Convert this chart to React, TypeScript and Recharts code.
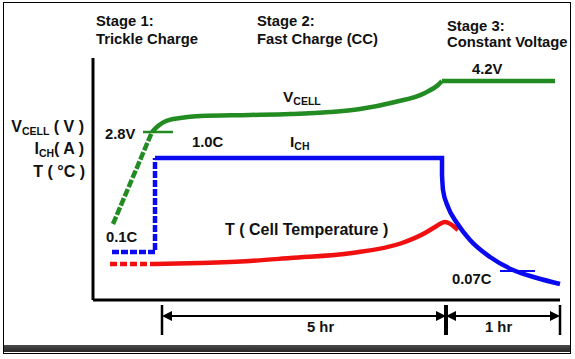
import { LineChart, Line, XAxis, YAxis, ReferenceLine } from 'recharts';

// schematic chart: time and level are in arbitrary units (not to scale)
const timeDomain = [0, 467];
const levelDomain = [0, 242];

// cell voltage
const vcellTrickle = [
  { t: 20, v: 76 },
  { t: 59, v: 168 },
];
const vcellFast = [
  { t: 59, v: 168 },
  { t: 65, v: 174 },
  { t: 73, v: 179 },
  { t: 87, v: 182 },
  { t: 107, v: 184 },
  { t: 157, v: 185 },
  { t: 197, v: 186 },
  { t: 237, v: 188 },
  { t: 267, v: 191 },
  { t: 302, v: 198 },
  { t: 332, v: 207 },
  { t: 345, v: 215 },
  { t: 349, v: 219 },
];
const vcellConst = [
  { t: 349, v: 219 },
  { t: 462, v: 219 },
];

// charge current
const ichTrickle = [
  { t: 19, v: 48 },
  { t: 62, v: 48 },
  { t: 62, v: 142 },
];
const ichFast = [
  { t: 62, v: 142 },
  { t: 349, v: 142 },
  { t: 349, v: 125 },
];
const ichConst = [
  { t: 349, v: 125 },
  { t: 350, v: 110 },
  { t: 355, v: 93 },
  { t: 364, v: 77 },
  { t: 377, v: 60 },
  { t: 397, v: 43 },
  { t: 420, v: 30 },
  { t: 444, v: 22 },
  { t: 467, v: 16 },
];

// cell temperature
const tempTrickle = [
  { t: 17, v: 36 },
  { t: 62, v: 36 },
];
const tempFast = [
  { t: 62, v: 36 },
  { t: 107, v: 37 },
  { t: 157, v: 39 },
  { t: 197, v: 42 },
  { t: 259, v: 47 },
  { t: 309, v: 57 },
  { t: 332, v: 67 },
  { t: 342, v: 73 },
  { t: 352, v: 78 },
  { t: 365, v: 70 },
];

// threshold marks: [t start, t end, level]
const mark28V = [50, 80, 168];
const mark007C = [407, 442, 29];

// stage duration spans below the axis
const spanEdges = [69, 353, 467];
const spanLevel = -16;
const spanTick = [-5, -35];

const GREEN = '#228b22';
const BLUE = '#0a0af0';
const RED = '#f01010';
const FONT = '"Liberation Sans", Arial, sans-serif';

function ArrowLine(props: any) {
  const { x1, y1, x2, y2 } = props;
  const h = 10;
  const w = 5;
  return (
    <g>
      <line x1={x1 + 2} y1={y1} x2={x2 - 2} y2={y2} stroke="#000" strokeWidth={2} />
      <polygon points={`${x1},${y1} ${x1 + h},${y1 - w} ${x1 + h},${y1 + w}`} fill="#000" />
      <polygon points={`${x2},${y2} ${x2 - h},${y2 - w} ${x2 - h},${y2 + w}`} fill="#000" />
    </g>
  );
}

function Txt({ x, y, size = 14.8, right = false, children }: any) {
  const style: any = {
    position: 'absolute',
    top: y - size * 0.8465,
    lineHeight: 1,
    fontSize: size,
    fontWeight: 'bold',
    fontFamily: FONT,
    whiteSpace: 'nowrap',
    color: '#111',
  };
  if (right) {
    style.left = 0;
    style.width = x;
    style.textAlign = 'right';
  } else {
    style.left = x;
  }
  return <div style={style}>{children}</div>;
}

function Sub({ children }: any) {
  return <span style={{ fontSize: 10.5, position: 'relative', top: 3 }}>{children}</span>;
}

export default function App() {
  return (
    <div
      style={{
        position: 'absolute',
        left: 0,
        top: 0,
        width: 575,
        height: 359,
        background: '#fff',
        overflow: 'hidden',
      }}
    >
      <div
        style={{
          position: 'absolute',
          left: 3,
          top: 2,
          width: 566,
          height: 350,
          border: '1px solid #000',
        }}
      />
      <div
        style={{
          position: 'absolute',
          left: 4,
          top: 345,
          width: 566,
          height: 7,
          background: 'linear-gradient(#4a4a4a, #2a2a2a)',
        }}
      />
      <div style={{ position: 'absolute', left: 0, top: 0 }}>
        <LineChart width={575} height={359} margin={{ top: 58, right: 15, bottom: 29, left: 33 }}>
          <XAxis
            type="number"
            dataKey="t"
            domain={timeDomain}
            tick={false}
            tickLine={false}
            height={30}
            axisLine={{ stroke: '#000', strokeWidth: 3 }}
          />
          <YAxis
            type="number"
            dataKey="v"
            domain={levelDomain}
            tick={false}
            tickLine={false}
            width={60}
            axisLine={{ stroke: '#000', strokeWidth: 3 }}
          />
          <ReferenceLine
            segment={[{ x: mark28V[0], y: mark28V[2] }, { x: mark28V[1], y: mark28V[2] }]}
            stroke={GREEN}
            strokeWidth={2.5}
          />
          <ReferenceLine
            segment={[{ x: mark007C[0], y: mark007C[2] }, { x: mark007C[1], y: mark007C[2] }]}
            stroke={BLUE}
            strokeWidth={2}
          />
          <Line data={vcellTrickle} dataKey="v" type="linear" stroke={GREEN} strokeWidth={4.5} strokeDasharray="8 2" dot={false} isAnimationActive={false} />
          <Line data={vcellFast} dataKey="v" type="monotone" stroke={GREEN} strokeWidth={4.5} dot={false} isAnimationActive={false} />
          <Line data={vcellConst} dataKey="v" type="linear" stroke={GREEN} strokeWidth={4.5} dot={false} isAnimationActive={false} />
          <Line data={tempTrickle} dataKey="v" type="linear" stroke={RED} strokeWidth={4.5} strokeDasharray="7 3" dot={false} isAnimationActive={false} />
          <Line data={tempFast} dataKey="v" type="monotone" stroke={RED} strokeWidth={4.5} dot={false} isAnimationActive={false} />
          <Line data={ichTrickle} dataKey="v" type="linear" stroke={BLUE} strokeWidth={4.5} strokeDasharray="7 2" dot={false} isAnimationActive={false} />
          <Line data={ichFast} dataKey="v" type="linear" stroke={BLUE} strokeWidth={4.5} dot={false} isAnimationActive={false} />
          <Line data={ichConst} dataKey="v" type="monotone" stroke={BLUE} strokeWidth={4.5} dot={false} isAnimationActive={false} />
          {spanEdges.slice(0, -1).map((from, i) => (
            <ReferenceLine
              key={`span-${i}`}
              segment={[{ x: from, y: spanLevel }, { x: spanEdges[i + 1], y: spanLevel }]}
              ifOverflow="visible"
              shape={(p: any) => <ArrowLine {...p} />}
            />
          ))}
          {spanEdges.map((t, i) => (
            <ReferenceLine
              key={`edge-${i}`}
              segment={[{ x: t, y: spanTick[0] }, { x: t, y: spanTick[1] }]}
              ifOverflow="visible"
              stroke="#000"
              strokeWidth={i === 1 ? 4 : 2.5}
            />
          ))}
        </LineChart>
      </div>

      <Txt x={96} y={27}>Stage 1:</Txt>
      <Txt x={96} y={45}>Trickle Charge</Txt>
      <Txt x={257} y={27}>Stage 2:</Txt>
      <Txt x={257} y={45}>Fast Charge (CC)</Txt>
      <Txt x={447} y={32}>Stage 3:</Txt>
      <Txt x={447} y={48}>Constant Voltage</Txt>

      <Txt x={84} y={133} size={16} right>
        V<Sub>CELL</Sub> ( V )
      </Txt>
      <Txt x={84} y={155} size={16} right>
        I<Sub>CH</Sub>( A )
      </Txt>
      <Txt x={85} y={178} size={16} right>
        T ( °C )
      </Txt>

      <Txt x={472} y={75}>4.2V</Txt>
      <Txt x={283} y={102} size={15.5}>
        V<Sub>CELL</Sub>
      </Txt>
      <Txt x={105} y={140}>2.8V</Txt>
      <Txt x={192} y={148}>1.0C</Txt>
      <Txt x={290} y={147} size={15.5}>
        I<Sub>CH</Sub>
      </Txt>
      <Txt x={106} y={243}>0.1C</Txt>
      <Txt x={225} y={236} size={16}>
        T ( Cell Temperature )
      </Txt>
      <Txt x={452} y={285}>0.07C</Txt>
      <Txt x={307} y={333}>5 hr</Txt>
      <Txt x={485} y={333}>1 hr</Txt>
    </div>
  );
}
